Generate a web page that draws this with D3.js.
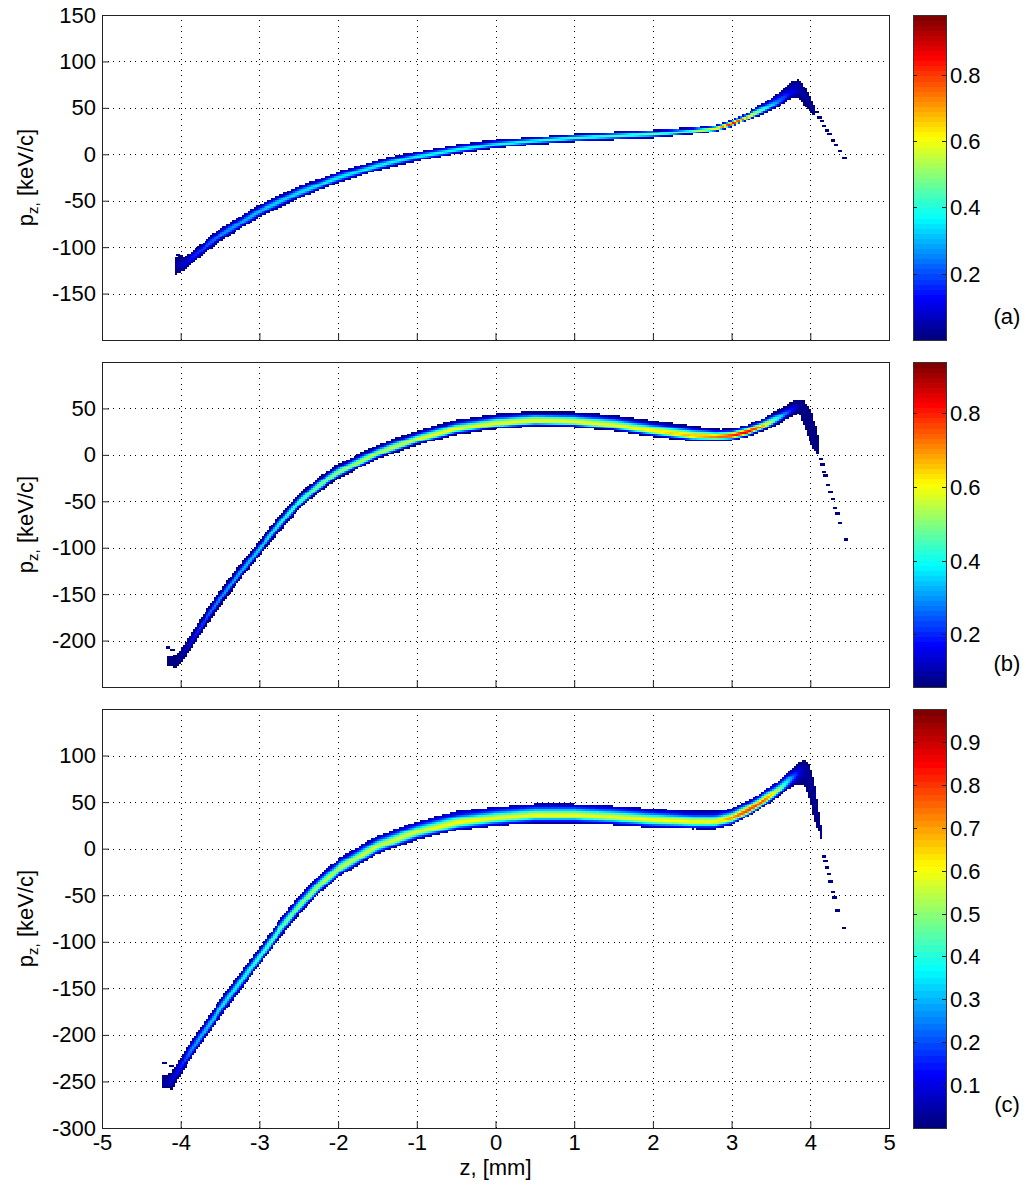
<!DOCTYPE html>
<html>
<head>
<meta charset="utf-8">
<script src="https://cdn.jsdelivr.net/npm/d3@7"></script>
<style>
  body { margin: 0; background: #fff; }
  svg { display: block; font-family: "Liberation Sans", Arial, sans-serif; }
</style>
</head>
<body>
<svg id="fig" width="1031" height="1186"></svg>
<script>
// ---- Phase-space density p_z(z): band described by ridge line, upper/lower extent and peak density ----

// Shared axes
const xTicks = [-5, -4, -3, -2, -1, 0, 1, 2, 3, 4, 5];

// (a)
const aZ     = [-4.06, -3.95, -3.85, -3.5, -3.0, -2.5, -2.0, -1.5, -1.0, -0.5, 0.0, 0.5, 1.0, 1.5, 2.0, 2.5, 2.8, 3.0, 3.2, 3.4, 3.6, 3.75, 3.85, 3.95, 4.03];
const aRidge = [-120, -117, -110, -87, -61, -41, -25, -12, -2, 5, 11, 15, 18, 20, 22, 25, 28, 33, 40, 48, 57, 66, 71, 62, 50];
const aUp    = [8, 7, 6, 7, 7, 7, 6, 6, 5, 5, 5, 4, 4, 4, 4, 4, 4, 4, 5, 7, 9, 12, 10, 8, 5];
const aLo    = [8, 8, 6, 6, 6, 6, 5, 5, 5, 4, 4, 4, 4, 4, 4, 3, 3, 3, 3, 4, 5, 6, 10, 12, 6];
const aPeak  = [0.05, 0.1, 0.15, 0.26, 0.32, 0.35, 0.36, 0.37, 0.37, 0.38, 0.38, 0.4, 0.42, 0.44, 0.46, 0.5, 0.62, 0.88, 0.7, 0.45, 0.25, 0.12, 0.06, 0.03, 0.03];
const aDotZ  = [-4.05, -4.02, 4.07, 4.1, 4.13, 4.16, 4.2, 4.23, 4.27, 4.31, 4.36, 4.42];
const aDotP  = [-108, -109, 46, 40, 36, 31, 26, 22, 15, 10, 4, -4];
const aYTicks = [-150, -100, -50, 0, 50, 100, 150];
const aCbTicks = [0.2, 0.4, 0.6, 0.8];

// (b)
const bZ     = [-4.16, -4.05, -3.95, -3.75, -3.5, -3.25, -3.0, -2.75, -2.5, -2.25, -2.0, -1.5, -1.0, -0.5, 0.0, 0.5, 1.0, 1.5, 2.0, 2.5, 2.8, 3.0, 3.2, 3.4, 3.6, 3.75, 3.85, 3.92, 4.0, 4.06, 4.1];
const bRidge = [-222, -222, -212, -185, -155, -127, -101, -75, -51, -33, -19, 2, 17, 28, 34, 37, 36, 32, 26, 21, 20, 21, 25, 31, 40, 48, 53, 50, 40, 25, 10];
const bUp    = [5, 7, 9, 9, 9, 9, 9, 9, 9, 9, 9, 9, 9, 10, 10, 10, 10, 11, 11, 10, 8, 7, 7, 8, 9, 9, 7, 8, 8, 8, 6];
const bLo    = [5, 7, 7, 7, 7, 7, 7, 7, 7, 7, 6, 6, 6, 6, 6, 6, 6, 6, 6, 6, 5, 5, 5, 5, 6, 7, 8, 18, 28, 20, 10];
const bPeak  = [0.04, 0.06, 0.12, 0.22, 0.3, 0.33, 0.36, 0.4, 0.45, 0.5, 0.52, 0.55, 0.58, 0.6, 0.6, 0.6, 0.6, 0.6, 0.62, 0.66, 0.72, 0.8, 0.85, 0.7, 0.4, 0.2, 0.1, 0.05, 0.03, 0.03, 0.03];
const bDotZ  = [-4.18, -4.12, 4.12, 4.14, 4.16, 4.18, 4.21, 4.24, 4.27, 4.3, 4.33, 4.36, 4.44];
const bDotP  = [-207, -210, -4, -10, -18, -22, -32, -40, -47, -57, -63, -73, -91];
const bYTicks = [-200, -150, -100, -50, 0, 50];
const bCbTicks = [0.2, 0.4, 0.6, 0.8];

// (c)
const cZ     = [-4.22, -4.12, -4.0, -3.88, -3.75, -3.5, -3.25, -3.0, -2.75, -2.5, -2.25, -2.0, -1.5, -1.0, -0.5, 0.0, 0.5, 1.0, 1.5, 2.0, 2.5, 2.8, 3.0, 3.2, 3.4, 3.6, 3.75, 3.85, 3.92, 3.98, 4.05, 4.1, 4.14];
const cRidge = [-250, -250, -234, -218, -202, -172, -144, -116, -88, -62, -40, -22, 3, 18, 28, 33, 36, 36, 34, 31, 29, 29, 33, 41, 51, 63, 75, 82, 85, 80, 60, 35, 15];
const cUp    = [6, 9, 9, 10, 10, 10, 10, 10, 11, 11, 11, 11, 11, 11, 12, 12, 12, 12, 12, 12, 11, 11, 10, 10, 10, 10, 10, 10, 10, 12, 10, 6, 5];
const cLo    = [6, 8, 8, 8, 8, 8, 8, 8, 8, 8, 8, 8, 8, 8, 8, 8, 8, 8, 8, 8, 7, 7, 7, 6, 6, 6, 8, 12, 16, 25, 30, 15, 8];
const cPeak  = [0.04, 0.08, 0.15, 0.25, 0.3, 0.35, 0.38, 0.42, 0.46, 0.5, 0.53, 0.55, 0.57, 0.58, 0.6, 0.6, 0.6, 0.6, 0.6, 0.6, 0.6, 0.6, 0.72, 0.8, 0.78, 0.55, 0.3, 0.12, 0.05, 0.03, 0.03, 0.03, 0.03];
const cDotZ  = [-4.22, -4.13, 4.16, 4.18, 4.2, 4.22, 4.24, 4.27, 4.29, 4.33, 4.41];
const cDotP  = [-230, -233, -8, -13, -20, -27, -35, -46, -52, -66, -85];
const cYTicks = [-300, -250, -200, -150, -100, -50, 0, 50, 100];
const cCbTicks = [0.1, 0.2, 0.3, 0.4, 0.5, 0.6, 0.7, 0.8, 0.9];

// ---- layout ----
const plotLeft = 102, plotRight = 889;
const cbLeft = 913, cbRight = 946;
const dz = 0.025, dp = 2;          // histogram bin size (mm, keV/c)
const fontSize = 22;

const panels = [
  { key: "a", top: 15,  bottom: 340,  yDomain: [-200, 150], yTicks: aYTicks, cbDomain: [0, 0.98],     cbTicks: aCbTicks,
    z: aZ, ridge: aRidge, up: aUp, lo: aLo, peak: aPeak, dotZ: aDotZ, dotP: aDotP, tag: "(a)", xLabels: false },
  { key: "b", top: 362, bottom: 687,  yDomain: [-250, 100], yTicks: bYTicks, cbDomain: [0.056, 0.94], cbTicks: bCbTicks,
    z: bZ, ridge: bRidge, up: bUp, lo: bLo, peak: bPeak, dotZ: bDotZ, dotP: bDotP, tag: "(b)", xLabels: false },
  { key: "c", top: 709, bottom: 1128, yDomain: [-300, 150], yTicks: cYTicks, cbDomain: [0, 0.977],    cbTicks: cCbTicks,
    z: cZ, ridge: cRidge, up: cUp, lo: cLo, peak: cPeak, dotZ: cDotZ, dotP: cDotP, tag: "(c)", xLabels: true }
];

// MATLAB-style jet colormap with 64 levels
function jet(t) {
  const i = Math.max(0, Math.min(63, Math.floor(t * 64)));
  const s = i / 63;
  const c = v => Math.max(0, Math.min(1, v));
  const r = c(Math.min(4 * s - 1.5, -4 * s + 4.5));
  const g = c(Math.min(4 * s - 0.5, -4 * s + 3.5));
  const b = c(Math.min(4 * s + 0.5, -4 * s + 2.5));
  return d3.rgb(r * 255, g * 255, b * 255).formatHex();
}

const svg = d3.select("#fig");
const defs = svg.append("defs");
const x = d3.scaleLinear().domain([-5, 5]).range([plotLeft, plotRight]);

panels.forEach(P => {
  const y = d3.scaleLinear().domain(P.yDomain).range([P.bottom, P.top]);
  const norm = d3.scaleLinear().domain(P.cbDomain).range([0, 1]).clamp(true);
  const color = v => jet(norm(v));
  const g = svg.append("g").attr("class", "panel-" + P.key);

  defs.append("clipPath").attr("id", "clip-" + P.key)
    .append("rect").attr("x", plotLeft).attr("y", P.top)
    .attr("width", plotRight - plotLeft).attr("height", P.bottom - P.top);

  // dotted grid
  const grid = g.append("g").attr("stroke", "#000").attr("stroke-width", 1)
    .attr("stroke-dasharray", "1,4.5").attr("shape-rendering", "crispEdges");
  grid.selectAll(".gx").data(xTicks.filter(t => t > -5 && t < 5)).join("line")
    .attr("x1", d => Math.round(x(d)) + 0.5).attr("x2", d => Math.round(x(d)) + 0.5)
    .attr("y1", P.bottom).attr("y2", P.top);
  grid.selectAll(".gy").data(P.yTicks.filter(t => t > P.yDomain[0] && t < P.yDomain[1])).join("line")
    .attr("y1", d => Math.round(y(d)) + 0.5).attr("y2", d => Math.round(y(d)) + 0.5)
    .attr("x1", plotLeft).attr("x2", plotRight);

  // density cells of the band
  const R = d3.scaleLinear().domain(P.z).range(P.ridge);
  const U = d3.scaleLinear().domain(P.z).range(P.up);
  const L = d3.scaleLinear().domain(P.z).range(P.lo);
  const K = d3.scaleLinear().domain(P.z).range(P.peak);
  const cells = [];
  const n = Math.round((P.z[P.z.length - 1] - P.z[0]) / dz);
  for (let i = 0; i <= n; i++) {
    const zc = P.z[0] + i * dz;
    const r = R(zc), u = U(zc), l = L(zc), pk = K(zc);
    for (let k = Math.ceil((r - l) / dp); k <= Math.floor((r + u) / dp); k++) {
      const pc = k * dp;
      const t = (pc - r) / (pc >= r ? u : l);
      cells.push({ z: zc, p: pc, v: pk * Math.exp(-2.6 * t * t), w: 1 });
    }
  }
  // isolated low-density particles
  P.dotZ.forEach((zz, i) => cells.push({ z: zz, p: P.dotP[i], v: P.cbDomain[0], w: 2 }));

  const cw = x(dz) - x(0), ch = y(0) - y(dp);
  g.append("g").attr("clip-path", `url(#clip-${P.key})`).attr("shape-rendering", "crispEdges")
    .selectAll("rect").data(cells).join("rect")
    .attr("x", d => x(d.z - dz / 2)).attr("y", d => y(d.p + dp / 2))
    .attr("width", d => cw * d.w + 0.5).attr("height", ch + 0.5)
    .attr("fill", d => color(d.v));

  // axes (inward ticks, left and bottom)
  const yAxis = d3.axisLeft(y).tickValues(P.yTicks).tickSizeInner(-7).tickSizeOuter(0)
    .tickPadding(6).tickFormat(d => String(d));
  g.append("g").attr("transform", `translate(${plotLeft},0)`).call(yAxis)
    .attr("font-size", fontSize).attr("font-family", null)
    .call(a => a.select(".domain").remove())
    .call(a => a.selectAll("line").attr("stroke", "#222"))
    .call(a => a.selectAll("text").attr("fill", "#000"));

  const xAxis = d3.axisBottom(x).tickValues(xTicks).tickSizeInner(-7).tickSizeOuter(0)
    .tickPadding(6).tickFormat(d => P.xLabels ? String(d) : "");
  g.append("g").attr("transform", `translate(0,${P.bottom})`).call(xAxis)
    .attr("font-size", fontSize).attr("font-family", null)
    .call(a => a.select(".domain").remove())
    .call(a => a.selectAll("line").attr("stroke", "#222"))
    .call(a => a.selectAll("text").attr("fill", "#000"));

  // box
  g.append("rect").attr("x", plotLeft + 0.5).attr("y", P.top + 0.5)
    .attr("width", plotRight - plotLeft).attr("height", P.bottom - P.top)
    .attr("fill", "none").attr("stroke", "#222").attr("stroke-width", 1);

  // y label: p_z, [keV/c]
  const cy = (P.top + P.bottom) / 2;
  const yl = g.append("text").attr("transform", `translate(33,${cy}) rotate(-90)`)
    .attr("text-anchor", "middle").attr("font-size", fontSize).attr("fill", "#000");
  yl.append("tspan").text("p");
  yl.append("tspan").attr("font-size", 15).attr("dy", 5).text("z,");
  yl.append("tspan").attr("dy", -5).text(" [keV/c]");

  // colorbar
  const cbY = d3.scaleLinear().domain(P.cbDomain).range([P.bottom, P.top]);
  const levels = d3.range(64);
  const span = P.cbDomain[1] - P.cbDomain[0];
  const cb = svg.append("g").attr("class", "colorbar-" + P.key);
  cb.append("g").attr("shape-rendering", "crispEdges").selectAll("rect").data(levels).join("rect")
    .attr("x", cbLeft).attr("width", cbRight - cbLeft)
    .attr("y", i => cbY(P.cbDomain[0] + span * (i + 1) / 64))
    .attr("height", i => cbY(P.cbDomain[0] + span * i / 64) - cbY(P.cbDomain[0] + span * (i + 1) / 64) + 0.5)
    .attr("fill", i => jet((i + 0.5) / 64));
  cb.append("rect").attr("x", cbLeft + 0.5).attr("y", P.top + 0.5)
    .attr("width", cbRight - cbLeft).attr("height", P.bottom - P.top)
    .attr("fill", "none").attr("stroke", "#333");
  const tk = cb.selectAll(".tk").data(P.cbTicks).join("g")
    .attr("transform", d => `translate(0,${Math.round(cbY(d)) + 0.5})`);
  tk.append("line").attr("x1", cbLeft).attr("x2", cbLeft + 4).attr("stroke", "#222");
  tk.append("line").attr("x1", cbRight - 4).attr("x2", cbRight).attr("stroke", "#222");
  tk.append("text").attr("x", cbRight + 4).attr("dy", "0.35em")
    .attr("font-size", fontSize).attr("fill", "#000").text(d3.format(".1f"));

  svg.append("text").attr("x", 1007).attr("y", P.bottom - 16).attr("text-anchor", "middle")
    .attr("font-size", fontSize).attr("fill", "#000").text(P.tag);
});

// x label
svg.append("text").attr("x", (plotLeft + plotRight) / 2).attr("y", 1175)
  .attr("text-anchor", "middle").attr("font-size", fontSize).attr("fill", "#000").text("z, [mm]");
</script>
</body>
</html>
